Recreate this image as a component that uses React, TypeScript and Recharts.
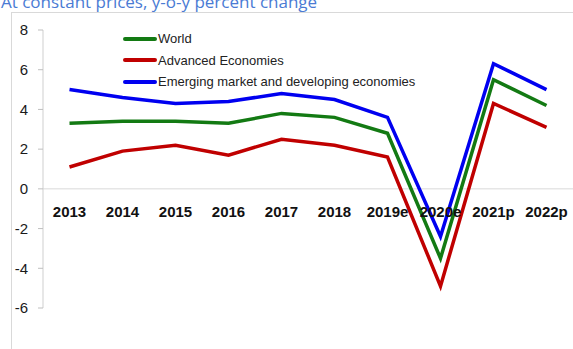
import React from 'react';
import { LineChart, Line, XAxis, YAxis, ReferenceLine } from 'recharts';

const years = ['2013', '2014', '2015', '2016', '2017', '2018', '2019e', '2020e', '2021p', '2022p'];
const world = [3.3, 3.4, 3.4, 3.3, 3.8, 3.6, 2.8, -3.5, 5.5, 4.2];
const advanced = [1.1, 1.9, 2.2, 1.7, 2.5, 2.2, 1.6, -4.9, 4.3, 3.1];
const emerging = [5.0, 4.6, 4.3, 4.4, 4.8, 4.5, 3.6, -2.4, 6.3, 5.0];
const yTicks = [-6, -4, -2, 0, 2, 4, 6, 8];

const seriesList = [
  { key: 'world', name: 'World', color: '#137A13' },
  { key: 'advanced', name: 'Advanced Economies', color: '#C00000' },
  { key: 'emerging', name: 'Emerging market and developing economies', color: '#0000F0' },
];

const data = years.map((year, i) => ({
  year,
  world: world[i],
  advanced: advanced[i],
  emerging: emerging[i],
}));

const W = 573;
const H = 349;
const MARGIN = { top: 30, right: 0, bottom: 0, left: 0 };
const X_AXIS_H = 41;
const Y_MIN = -6;
const Y_MAX = 8;
const PLOT_H = H - MARGIN.top - MARGIN.bottom - X_AXIS_H;
// pixel row of the zero value, from the linear y scale
const zeroY = MARGIN.top + ((Y_MAX - 0) / (Y_MAX - Y_MIN)) * PLOT_H;

const YearTick = (props: any) => {
  const { x, payload } = props;
  return (
    <text
      x={x}
      y={zeroY + 28}
      textAnchor="middle"
      fontFamily="'Liberation Sans', Arial, sans-serif"
      fontWeight="bold"
      fontSize={15}
      fill="#111"
    >
      {payload.value}
    </text>
  );
};

const LegendBox = () => (
  <div
    style={{
      position: 'absolute',
      left: 123,
      top: 28,
      fontFamily: "'Liberation Sans', Arial, sans-serif",
      fontSize: 13,
      color: '#222',
    }}
  >
    {seriesList.map((s) => (
      <div key={s.key} style={{ display: 'flex', alignItems: 'center', height: 21.5, whiteSpace: 'nowrap' }}>
        <div style={{ width: 34, height: 4, background: s.color, borderRadius: 2 }} />
        <span style={{ marginLeft: 1 }}>{s.name}</span>
      </div>
    ))}
  </div>
);

export default function App() {
  return (
    <div style={{ position: 'absolute', left: 0, top: 0, width: W, height: H, overflow: 'hidden', background: '#fff' }}>
      <div
        style={{
          position: 'absolute',
          left: 11,
          top: 12,
          width: 620,
          height: 400,
          border: '1px solid #d9d9d9',
        }}
      />
      <svg style={{ position: 'absolute', left: 0, top: 0 }} width={W} height={20}>
        <text x={1} y={7.5} fontFamily="'Open Sans', sans-serif" fontSize={17} fill="#4a7bd4">
          At constant prices, y-o-y percent change
        </text>
      </svg>
      <div style={{ position: 'absolute', left: 0, top: 0 }}>
        <LineChart width={W} height={H} data={data} margin={MARGIN}>
          <XAxis
            dataKey="year"
            axisLine={false}
            tickLine={false}
            tick={<YearTick />}
            height={X_AXIS_H}
            interval={0}
            padding={{ left: 26.5, right: 26.5 }}
          />
          <YAxis
            domain={[Y_MIN, Y_MAX]}
            ticks={yTicks}
            width={43}
            allowDataOverflow
            axisLine={{ stroke: '#cfcfcf' }}
            tickLine={{ stroke: '#bfbfbf' }}
            tickSize={5}
            tickMargin={10}
            tick={{ fontFamily: "'Liberation Sans', Arial, sans-serif", fontSize: 15, fill: '#1a1a1a' }}
          />
          <ReferenceLine y={0} stroke="#d9d9d9" strokeWidth={1} />
          {seriesList.map((s) => (
            <Line
              key={s.key}
              type="linear"
              dataKey={s.key}
              name={s.name}
              stroke={s.color}
              strokeWidth={3.5}
              dot={false}
              activeDot={false}
              isAnimationActive={false}
            />
          ))}
        </LineChart>
      </div>
      <LegendBox />
    </div>
  );
}
